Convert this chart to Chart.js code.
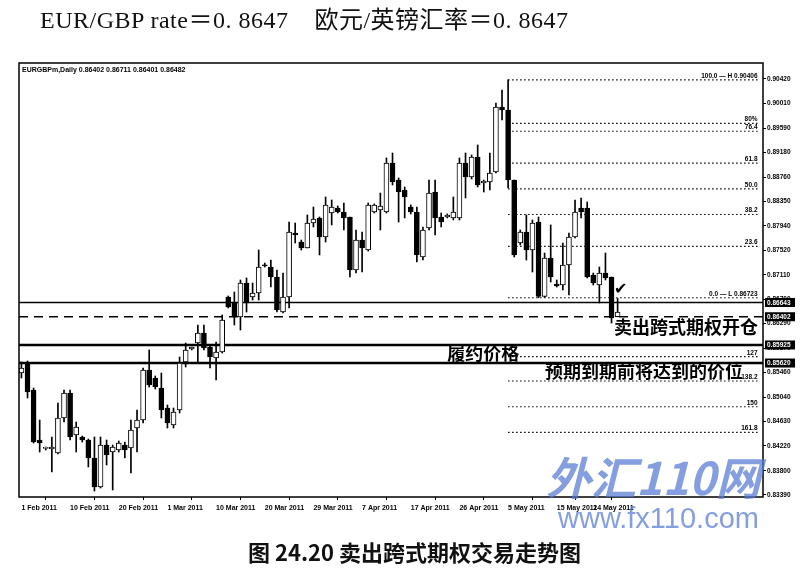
<!DOCTYPE html>
<html>
<head>
<meta charset="utf-8">
<script src="https://cdn.jsdelivr.net/npm/chart.js@4/dist/chart.umd.min.js"></script>
<style>
  body { margin: 0; background: #fff; width: 804px; height: 574px; position: relative; overflow: hidden; }
  #c { position: absolute; left: 0; top: 0; }
  .t { position: absolute; white-space: nowrap; color: #111; }
  #title { left: 40px; top: 8px; font: 24px/24px "Liberation Serif", "Noto Sans CJK SC", serif; letter-spacing: 0.5px; }
  #cap { left: 248px; top: 540px; font: bold 22px/22px "Noto Sans CJK SC", sans-serif; }
  #wm1 { left: 546px; top: 452px; font: italic bold 45px/48px "Noto Sans CJK SC", sans-serif; color: rgba(85,120,210,0.72); }
  #wm2 { left: 558px; top: 502px; font: 29px/32px "Liberation Sans", Arial, sans-serif; color: rgba(85,120,210,0.72); }
</style>
</head>
<body>
<canvas id="c" width="804" height="574"></canvas>
<div class="t" id="title">EUR/GBP rate＝0. 8647&nbsp;&nbsp;&nbsp; 欧元/英镑汇率＝0. 8647</div>
<div class="t" id="cap">图 24.20 卖出跨式期权交易走势图</div>
<div class="t" id="wm1">外汇110网</div>
<div class="t" id="wm2">www.fx110.com</div>
<script>
// EURGBP daily bars, 1 Feb 2011 .. 25 May 2011 (broker with Sunday bars)
const opens = [0.85451,0.85620,0.85164,0.84319,0.84184,0.84167,0.84099,0.84691,0.85113,0.84404,
  0.84370,0.84319,0.84015,0.83525,0.84235,0.84116,0.84150,0.84235,0.84184,0.84522,
  0.84657,0.85502,0.85367,0.85198,0.84860,0.84573,0.84826,0.85637,0.85857,0.85958,
  0.86127,0.85891,0.85705,0.85806,0.86736,0.86634,0.86398,0.86972,0.86736,0.86803,
  0.87277,0.87243,0.87074,0.86482,0.86736,0.87817,0.87665,0.87564,0.87986,0.88071,
  0.87750,0.88155,0.88240,0.88172,0.88088,0.87192,0.87699,0.87530,0.88172,0.88206,
  0.88172,0.89000,0.88713,0.88544,0.88257,0.88172,0.87412,0.87902,0.88510,0.88088,
  0.88088,0.88071,0.88071,0.89000,0.88764,0.89102,0.88662,0.88679,0.88848,0.89947,
  0.89896,0.88713,0.87648,0.87834,0.87530,0.88003,0.86745,0.87395,0.86956,0.86939,
  0.87277,0.87750,0.88240,0.88240,0.87108,0.86939,0.87141,0.87074,0.86402];
const highs = [0.85637,0.85654,0.85198,0.84657,0.84201,0.84370,0.84944,0.85164,0.85164,0.84623,
  0.84387,0.84336,0.84370,0.84370,0.84319,0.84235,0.84302,0.84285,0.84657,0.84826,
  0.85536,0.85840,0.85401,0.85451,0.84911,0.84860,0.85722,0.85958,0.85891,0.86263,
  0.86263,0.85925,0.85975,0.86432,0.86753,0.86820,0.87023,0.87057,0.86972,0.87530,
  0.87310,0.87361,0.87192,0.87141,0.88003,0.87986,0.87699,0.88122,0.88257,0.88088,
  0.88426,0.88375,0.88274,0.88324,0.88088,0.87868,0.87834,0.88324,0.88308,0.88493,
  0.89085,0.89169,0.88747,0.88595,0.88291,0.88257,0.87919,0.88713,0.88713,0.88155,
  0.88139,0.88426,0.89085,0.89169,0.89136,0.89305,0.88713,0.89169,0.90014,0.90234,
  0.90406,0.88713,0.87868,0.88122,0.88037,0.88088,0.87479,0.87953,0.87023,0.87648,
  0.87817,0.88375,0.88409,0.88341,0.87141,0.87243,0.87479,0.87074,0.86711];
const lows = [0.85367,0.85029,0.84268,0.84116,0.84150,0.83778,0.84083,0.84623,0.84319,0.84116,
  0.84285,0.83863,0.83457,0.83508,0.83897,0.83474,0.84116,0.84015,0.83761,0.84116,
  0.84606,0.85215,0.85181,0.84691,0.84522,0.84522,0.84775,0.85553,0.85840,0.85637,
  0.85840,0.85536,0.85333,0.85789,0.86550,0.86263,0.86178,0.86482,0.86685,0.86685,
  0.87243,0.86905,0.86482,0.86465,0.86550,0.87648,0.87530,0.87564,0.87919,0.87446,
  0.87665,0.87953,0.88155,0.87868,0.87074,0.87141,0.87158,0.87513,0.88155,0.87868,
  0.88155,0.88629,0.88003,0.88071,0.88139,0.87327,0.87361,0.87868,0.87784,0.87919,
  0.88071,0.88037,0.88037,0.88409,0.88730,0.88595,0.88510,0.88544,0.88831,0.89727,
  0.88578,0.87412,0.87615,0.87361,0.87158,0.86723,0.86730,0.86989,0.86905,0.86854,
  0.86770,0.87733,0.88071,0.87057,0.86939,0.86634,0.87023,0.86296,0.86401];
const closes = [0.85536,0.85130,0.84285,0.84268,0.84190,0.84201,0.84691,0.85113,0.84370,0.84539,
  0.84319,0.84015,0.83525,0.84235,0.84066,0.84201,0.84268,0.84150,0.84488,0.84657,
  0.85502,0.85249,0.85215,0.84826,0.84606,0.84792,0.85620,0.85840,0.85891,0.86127,
  0.85874,0.85722,0.85806,0.86347,0.86567,0.86398,0.86972,0.86634,0.86803,0.87243,
  0.87260,0.87074,0.86516,0.86736,0.87834,0.87784,0.87564,0.87986,0.88054,0.87750,
  0.88291,0.88257,0.88172,0.88071,0.87192,0.87699,0.87564,0.88291,0.88291,0.88274,
  0.89000,0.88679,0.88510,0.88426,0.88172,0.87446,0.87868,0.88493,0.88071,0.88003,
  0.88122,0.88172,0.89000,0.88764,0.89102,0.88629,0.88696,0.88831,0.89947,0.89896,
  0.88713,0.87446,0.87834,0.87530,0.87986,0.86745,0.87395,0.87074,0.86922,0.87277,
  0.87750,0.88172,0.88172,0.87074,0.86972,0.87141,0.87057,0.86381,0.86482];

// date axis: bar index of each label
const tickIdx = [0, 8, 16, 24, 32, 40, 48, 56, 64, 72, 80, 88, 94];
const tickLabels = ["1 Feb 2011","10 Feb 2011","20 Feb 2011","1 Mar 2011","10 Mar 2011","20 Mar 2011",
  "29 Mar 2011","7 Apr 2011","17 Apr 2011","26 Apr 2011","5 May 2011","15 May 2011","24 May 2011"];
const yTicks = [0.90420,0.90010,0.89590,0.89180,0.88760,0.88350,0.87940,0.87520,0.87110,0.86700,
  0.86290,0.85870,0.85460,0.85040,0.84630,0.84220,0.83800,0.83390];

// fibonacci retracement / extension
const fibHigh = 0.90406, fibLow = 0.86723;
const fibLevels = [0, 23.6, 38.2, 50, 61.8, 76.4, 80, 100, 127, 138.2, 150, 161.8];
const fibNames = ["0.0 — L 0.86723","23.6","38.2","50.0","61.8","76.4","80%","100.0 — H 0.90406","127","138.2","150","161.8"];

// horizontal lines: upper line, straddle entry (dashed), strike band
const hLines = [0.86643, 0.86402, 0.85925, 0.85620];

const xMin = -0.4, xMax = 121.9, fibFrom = 80, fibTo = 121;
const yMin = 0.83356, yMax = 0.90690;

const fibPrice = r => r <= 100 ? fibLow + (fibHigh - fibLow) * r / 100
                               : fibLow - (fibHigh - fibLow) * (r - 100) / 100;

const idx = opens.map((_, i) => i);
const wickData = idx.map(i => ({ x: i, y: [lows[i], highs[i]] }));
const bodyData = idx.map(i => {
  let a = Math.min(opens[i], closes[i]), b = Math.max(opens[i], closes[i]);
  if (b - a < 0.00018) { const m = (a + b) / 2; a = m - 0.00009; b = m + 0.00009; }
  return { x: i, y: [a, b] };
});
const bodyColor = idx.map(i => closes[i] >= opens[i] ? "#fff" : "#000");

const lineDs = (y, from, to, opt) => Object.assign({
  type: "line", data: [{ x: from, y }, { x: to, y }], borderColor: "#000",
  pointRadius: 0, fill: false, order: 2
}, opt);

const small = 'bold 6.5px "Liberation Sans"';

const overlay = {
  id: "overlay",
  afterDraw(chart) {
    const { ctx, chartArea: a, scales: { x, y } } = chart;
    ctx.save();
    ctx.strokeStyle = "#000";
    ctx.lineWidth = 1.5;
    ctx.strokeRect(a.left, a.top, a.right - a.left, a.bottom - a.top);

    ctx.fillStyle = "#000";
    ctx.font = 'bold 7px "Liberation Sans"';
    ctx.textBaseline = "alphabetic";
    const n = opens.length - 1;
    ctx.fillText("EURGBPm,Daily " + [opens[n], highs[n], lows[n], closes[n]].map(v => v.toFixed(5)).join(" "),
      a.left + 3, a.top + 9);

    // fib labels
    ctx.font = small;
    ctx.textAlign = "right";
    fibLevels.forEach((r, i) => {
      ctx.fillText(fibNames[i], x.getPixelForValue(fibTo), y.getPixelForValue(fibPrice(r)) - 2);
    });

    // annotations
    ctx.font = 'bold 18px "Noto Sans CJK SC"';
    ctx.textBaseline = "middle";
    ctx.textAlign = "right";
    ctx.fillText("卖出跨式期权开仓", a.right - 5, y.getPixelForValue(0.8623));
    ctx.fillText("预期到期前将达到的价位", x.getPixelForValue(118.6), y.getPixelForValue(0.85485));
    ctx.textAlign = "left";
    ctx.fillText("履约价格", x.getPixelForValue(70), y.getPixelForValue((hLines[2] + hLines[3]) / 2) - 1);
    ctx.textAlign = "center";
    ctx.font = 'bold 16px "DejaVu Sans"';
    ctx.fillText("✔", x.getPixelForValue(98.5), y.getPixelForValue(0.86854));

    // price boxes on the axis
    ctx.font = small;
    ctx.textAlign = "left";
    hLines.forEach(v => {
      const py = y.getPixelForValue(v);
      ctx.fillStyle = "#000";
      ctx.fillRect(a.right + 2, py - 4.5, 30, 9);
      ctx.fillStyle = "#fff";
      ctx.fillText(v.toFixed(5), a.right + 4, py + 0.5);
    });
    ctx.restore();
  }
};

new Chart(document.getElementById("c"), {
  type: "bar",
  data: {
    datasets: [
      { data: bodyData, backgroundColor: bodyColor, borderColor: "#000", borderWidth: 1,
        borderSkipped: false, barThickness: 5, grouped: false, order: 0 },
      { data: wickData, backgroundColor: "#000", barThickness: 1, grouped: false, order: 1 },
      ...fibLevels.map(r => lineDs(fibPrice(r), fibFrom, fibTo, { borderWidth: 1.2, borderDash: [1.5, 2.5] })),
      lineDs(hLines[0], xMin, xMax, { borderWidth: 1.5 }),
      lineDs(hLines[1], xMin, xMax, { borderWidth: 1.5, borderDash: [9, 6] }),
      lineDs(hLines[2], xMin, xMax, { borderWidth: 2.5 }),
      lineDs(hLines[3], xMin, xMax, { borderWidth: 2.5 })
    ]
  },
  options: {
    responsive: false,
    devicePixelRatio: 1,
    animation: false,
    layout: { padding: { left: 19, top: 63, right: 0, bottom: 0 } },
    plugins: { legend: { display: false }, tooltip: { enabled: false } },
    scales: {
      x: {
        type: "linear", min: xMin, max: xMax, offset: false,
        afterBuildTicks: s => { s.ticks = tickIdx.map(v => ({ value: v })); },
        afterFit: s => { s.height = 77; },
        grid: { display: true, drawOnChartArea: false, tickLength: 3, color: "#000" },
        border: { display: false },
        ticks: {
          autoSkip: false, maxRotation: 0, minRotation: 0, align: "start", padding: 4, color: "#000",
          font: { family: "Liberation Sans", size: 7, weight: "bold" },
          callback: v => { const k = tickIdx.indexOf(v); return k < 0 ? "" : tickLabels[k]; }
        }
      },
      y: {
        type: "linear", position: "right", min: yMin, max: yMax,
        afterBuildTicks: s => { s.ticks = yTicks.map(v => ({ value: v })); },
        afterFit: s => { s.width = 41; },
        grid: { display: true, drawOnChartArea: false, tickLength: 3, color: "#000" },
        border: { display: false },
        ticks: {
          padding: 1, color: "#000",
          font: { family: "Liberation Sans", size: 6.5, weight: "bold" },
          callback: v => v.toFixed(5)
        }
      }
    }
  },
  plugins: [overlay]
});
</script>
</body>
</html>
